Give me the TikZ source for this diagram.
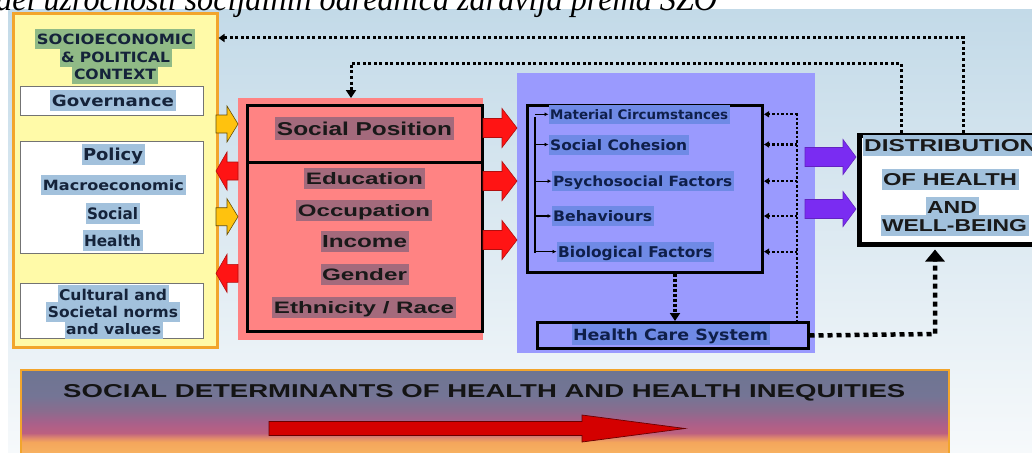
\documentclass[tikz,border=0pt]{standalone}
\usepackage{fontspec}
\setmainfont{Liberation Serif}
\newfontfamily\dv{DejaVu Sans}
\newfontfamily\ar{Liberation Sans}
\usetikzlibrary{arrows.meta,calc}
\definecolor{bgT}{HTML}{C3DAE8}
\definecolor{bgM}{HTML}{DAE8F0}
\definecolor{bgB}{HTML}{F6F9FB}
\definecolor{ylw}{HTML}{FFFAA8}
\definecolor{org}{HTML}{F2A52C}
\definecolor{hlG}{HTML}{90BA86}
\definecolor{hlB}{HTML}{A2C1DC}
\definecolor{pnk}{HTML}{FF8383}
\definecolor{hlP}{HTML}{A46A7C}
\definecolor{blu}{HTML}{9A9AFE}
\definecolor{hlV}{HTML}{6F8AE6}
\definecolor{txN}{HTML}{15233A}
\definecolor{txV}{HTML}{0F1F4A}
\definecolor{aY}{HTML}{FFC20E}
\definecolor{aR}{HTML}{FF1414}
\definecolor{aV}{HTML}{7A2CF2}
\definecolor{aB}{HTML}{D40000}
\definecolor{bnA}{HTML}{F8B462}
\definecolor{bnB}{HTML}{F4A65C}
\definecolor{bnC}{HTML}{E08A6C}
\definecolor{bnD}{HTML}{BC6080}
\definecolor{bnE}{HTML}{A9608A}
\definecolor{bnF}{HTML}{8A6C8E}
\definecolor{bnH}{HTML}{747595}
\definecolor{bnG}{HTML}{6E7592}
\pgfdeclareverticalshading{bannershade}{100bp}{color(0bp)=(bnA); color(25bp)=(bnA); color(33.1bp)=(bnB); color(35.5bp)=(bnC); color(38.4bp)=(bnD); color(44.2bp)=(bnE); color(51.2bp)=(bnF); color(59.9bp)=(bnH); color(75bp)=(bnG); color(100bp)=(bnG)}
\newcommand\TX[3]{\raisebox{0pt}[\dimexpr#2pt+4.5pt\relax][4.5pt]{\resizebox{#1pt}{#2pt}{#3}}}
\newcommand\barrow[7][]{\filldraw[#1] (#2,{#5-#6}) -- (#3,{#5-#6}) -- (#3,{#5-#7}) -- (#4,#5) -- (#3,{#5+#7}) -- (#3,{#5+#6}) -- (#2,{#5+#6}) -- cycle;}
\begin{document}
\begin{tikzpicture}[x=1pt,y=-1pt,
  box/.style={draw, inner sep=0pt, anchor=north west},
  hl/.style={inner xsep=1.5pt, inner ysep=0pt, anchor=base, text=txN},
  hlw/.style={hl, anchor=base west},
  yarr/.style={fill=aY, draw=black!60!aY, line width=0.6pt},
  rarr/.style={fill=aR, draw=black!30!aR, line width=0.6pt},
  varr/.style={fill=aV, draw=black!20!aV, line width=0.6pt},
  dotT/.style={line width=3pt, dash pattern=on 3pt off 2.5pt},
  dotS/.style={line width=2.2pt, dash pattern=on 2.5pt off 2pt},
  dotM/.style={line width=3.5pt, dash pattern=on 3pt off 2pt},
  dashT/.style={line width=4.5pt, dash pattern=on 5pt off 4pt},
  listarr/.style={line width=1.2pt, -{Latex[length=4pt,width=4pt]}}]
\useasboundingbox (0,0) rectangle (1032,452);
\clip (0,0) rectangle (1032,452);
\fill[white] (0,0) rectangle (1032,452);
\shade[top color=bgT, middle color=bgM, bottom color=bgB] (8,10) rectangle (1032,452);
% caption (cut off)
\node[anchor=base west, inner sep=0pt] (cap) at (-4,10.5) {\resizebox{721pt}{23.2pt}{\itshape del uzročnosti socijalnih odrednica zdravlja prema SZO}};
% left context box
\node[box, draw=org, line width=3pt, fill=ylw, minimum width=204pt, minimum height=333.5pt] (ctx) at (11.5,12.5) {};
\node[box, draw=black!55, line width=0.8pt, fill=white, minimum width=183pt, minimum height=29pt] (gov) at (20,86) {};
\node[box, draw=black!55, line width=0.8pt, fill=white, minimum width=183pt, minimum height=112pt] (pol) at (20,141) {};
\node[box, draw=black!55, line width=0.8pt, fill=white, minimum width=183pt, minimum height=55pt] (cult) at (20,283) {};
% social position
\node[box, draw=none, fill=pnk, minimum width=245pt, minimum height=242pt] (pbg) at (238,98) {};
\node[box, line width=3pt, minimum width=234.5pt, minimum height=57pt] (sp) at (246,103.5) {};
\node[box, line width=3pt, minimum width=234.5pt, minimum height=169pt] (sl) at (246,160.5) {};
% intermediary determinants
\node[box, draw=none, fill=blu, minimum width=298pt, minimum height=280pt] (bbg) at (517,73) {};
\node[box, line width=3pt, minimum width=235pt, minimum height=167pt] (inner) at (526,103.5) {};
\node[box, line width=3pt, fill=blu, minimum width=270.5pt, minimum height=26pt] (hcs) at (536,321) {};
% banner
\node[box, draw=org, line width=2pt, shading=bannershade, minimum width=928pt, minimum height=86pt] (ban) at (20,369) {};
% block arrows
\barrow[yarr]{216}{227}{238}{124}{9}{18}
\barrow[yarr]{216}{227}{238}{216.7}{9}{18}
\barrow[rarr]{238}{227}{216}{171}{9}{19}
\barrow[rarr]{238}{227}{216}{273.3}{9}{19}
\barrow[rarr]{483}{502}{517}{128}{9.5}{19.5}
\barrow[rarr]{483}{502}{517}{181}{9.5}{19.5}
\barrow[rarr]{483}{502}{517}{240}{9.5}{19.5}
\barrow[varr]{805}{843}{856}{157}{9.5}{17.5}
\barrow[varr]{805}{843}{856}{209}{9.5}{17.5}
\barrow[fill=aB, draw=black!50!aB, line width=0.7pt]{269}{582}{685}{428.5}{7}{13.5}
% distribution box
\node[box, line width=5pt, fill=white, minimum width=188pt, minimum height=109.5pt] (dist) at (857,132.5) {};
% connector coordinates
\coordinate (c1) at (963,38);
\coordinate (c2) at (901,63);
\coordinate (c3) at (351,63);
\coordinate (c4) at (675,300);
\coordinate (c5) at (935,334);
\coordinate (vr) at (797,113);
\coordinate (lt) at (535,117);
\coordinate (lb) at (535,253);
% texts: context
\node[hl, fill=hlG] (s1) at (115,44.5) {\TX{156}{10.5}{\dv\bfseries SOCIOECONOMIC}};
\node[hl, fill=hlG] (s2) at (115.5,62.5) {\TX{109}{10.5}{\dv\bfseries \&~POLITICAL}};
\node[hl, fill=hlG] (s3) at (115,79.5) {\TX{82}{10.5}{\dv\bfseries CONTEXT}};
\node[hl, fill=hlB] (g1) at (113,106) {\TX{122}{11.5}{\dv\bfseries Governance}};
\node[hl, fill=hlB] (p1) at (113,160.5) {\TX{60}{12.5}{\dv\bfseries Policy}};
\node[hl, fill=hlB] (p2) at (113.5,190.5) {\TX{141}{10.7}{\dv\bfseries Macroeconomic}};
\node[hl, fill=hlB] (p3) at (112.5,219.3) {\TX{51}{12}{\dv\bfseries Social}};
\node[hl, fill=hlB] (p4) at (112.5,246.5) {\TX{57}{11.7}{\dv\bfseries Health}};
\node[hl, fill=hlB] (k1) at (113,300.5) {\TX{108}{11.3}{\dv\bfseries Cultural and}};
\node[hl, fill=hlB] (k2) at (113,317.5) {\TX{130}{11.3}{\dv\bfseries Societal norms}};
\node[hl, fill=hlB] (k3) at (113.5,334) {\TX{95}{11}{\dv\bfseries and values}};
% texts: social position
\node[hl, fill=hlP, text=black!90] (q0) at (364.5,135.3) {\TX{175}{13.5}{\ar\bfseries Social Position}};
\node[hl, fill=hlP, text=black!90] (q1) at (364.5,184.5) {\TX{117}{12}{\ar\bfseries Education}};
\node[hl, fill=hlP, text=black!90] (q2) at (364,216.5) {\TX{132}{12}{\ar\bfseries Occupation}};
\node[hl, fill=hlP, text=black!90] (q3) at (364.5,247.5) {\TX{85}{12}{\ar\bfseries Income}};
\node[hl, fill=hlP, text=black!90] (q4) at (364.5,280) {\TX{85}{12}{\ar\bfseries Gender}};
\node[hl, fill=hlP, text=black!90] (q5) at (364,313) {\TX{180}{12}{\ar\bfseries Ethnicity / Race}};
% texts: intermediary
\node[hlw, fill=hlV, text=txV] (m1) at (548.5,119.3) {\TX{178}{10}{\dv\bfseries Material Circumstances}};
\node[hlw, fill=hlV, text=txV] (m2) at (548.5,150) {\TX{137}{11}{\dv\bfseries Social Cohesion}};
\node[hlw, fill=hlV, text=txV] (m3) at (551.5,186.5) {\TX{179}{10.7}{\dv\bfseries Psychosocial Factors}};
\node[hlw, fill=hlV, text=txV] (m4) at (551.5,221.5) {\TX{99}{11}{\dv\bfseries Behaviours}};
\node[hlw, fill=hlV, text=txV] (m5) at (556.5,257.3) {\TX{154}{11.3}{\dv\bfseries Biological Factors}};
\node[hl, fill=hlV, text=txV] (h1) at (670.5,340) {\TX{195}{11.7}{\dv\bfseries Health Care System}};
% texts: distribution
\node[hlw, fill=hlB, text=black!90] (d1) at (862.5,151.7) {\TX{173}{12}{\ar\bfseries DISTRIBUTION}};
\node[hl, fill=hlB, text=black!90] (d2) at (950,185.7) {\TX{134}{12}{\ar\bfseries OF HEALTH}};
\node[hl, fill=hlB, text=black!90] (d3) at (952,213.3) {\TX{50}{12}{\ar\bfseries AND}};
\node[hl, fill=hlB, text=black!90] (d4) at (954.5,231.7) {\TX{145}{12}{\ar\bfseries WELL-BEING}};
% banner text
\node[anchor=base west, inner sep=0pt, text=black!92] (bt) at (63,397) {\resizebox{842pt}{13pt}{\ar\bfseries SOCIAL DETERMINANTS OF HEALTH AND HEALTH INEQUITIES}};
% list line and arrows
\draw[line width=2pt] (lt) -- (lb);
\foreach \m in {m1,m2,m3,m4,m5} {\draw[listarr] (\m.west -| lt) -- (\m.west);}
% dotted feedback connectors
\draw[dotS] (vr) -- (hcs.north -| vr);
\foreach \m in {m1,m2,m3,m4,m5} {\draw[dotS, -{Triangle[length=5pt,width=6pt]}] (\m.west -| vr) -- (\m.west -| inner.east);}
\draw[dotT, -{Triangle[length=6pt,width=8pt]}] (dist.north -| c1) -- (c1) -- (c1 -| ctx.east);
\draw[dotT, -{Triangle[length=8pt,width=10pt]}] (dist.north -| c2) -- (c2) -- (c3) -- (c3 |- pbg.north);
\draw[dotM, -{Triangle[length=8pt,width=10pt]}] (inner.south -| c4) -- (hcs.north -| c4);
\draw[dashT, -{Triangle[length=12pt,width=19pt]}, shorten >=2.5pt] (hcs.east) -- (c5) -- (dist.south -| c5);
\end{tikzpicture}
\end{document}
